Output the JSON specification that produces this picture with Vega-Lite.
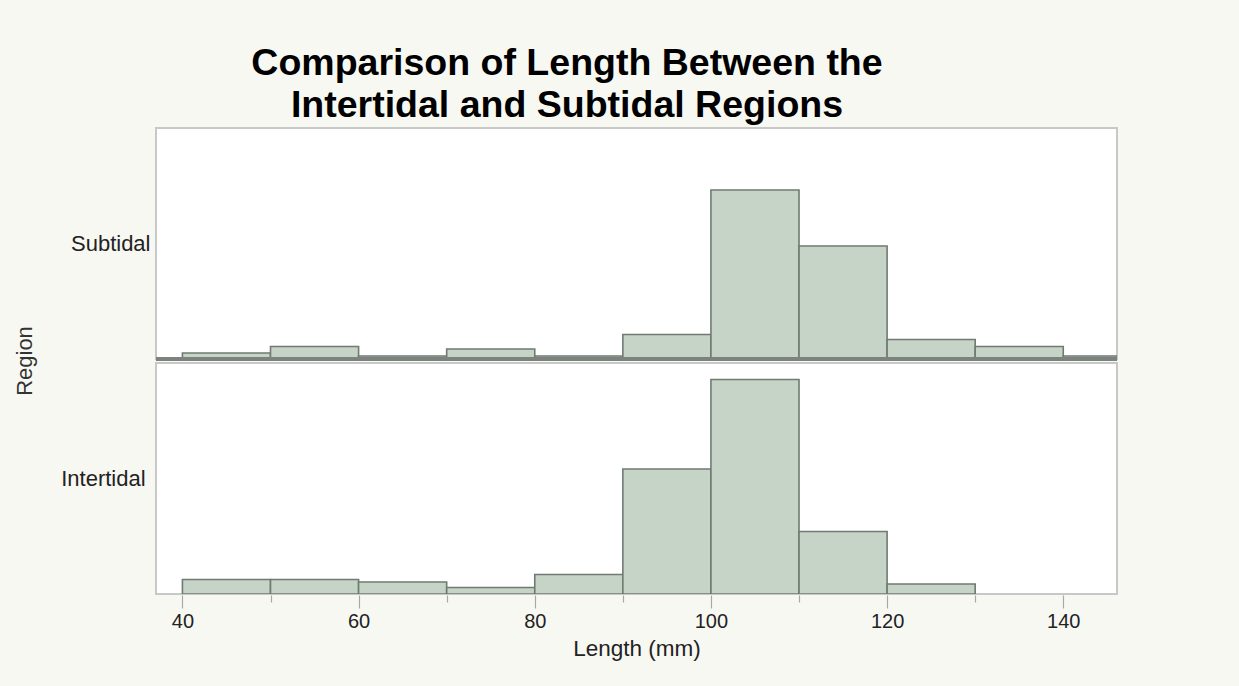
{
  "$schema": "https://vega.github.io/schema/vega-lite/v6.json",
  "background": "#f8f8f3",
  "padding": {"left": 14, "top": 44, "right": 120, "bottom": 28},
  "title": {
    "text": ["Comparison of Length Between the", "Intertidal and Subtidal Regions"],
    "font": "Liberation Sans",
    "fontSize": 37.5,
    "fontWeight": "bold",
    "lineHeight": 42,
    "color": "#000000",
    "anchor": "middle",
    "frame": "bounds",
    "offset": 3
  },
  "data": {
    "values": [
      {"region": "Subtidal", "bin_start": 40, "bin_end": 50, "freq": 6},
      {"region": "Subtidal", "bin_start": 50, "bin_end": 60, "freq": 12.5},
      {"region": "Subtidal", "bin_start": 60, "bin_end": 70, "freq": 3},
      {"region": "Subtidal", "bin_start": 70, "bin_end": 80, "freq": 10},
      {"region": "Subtidal", "bin_start": 80, "bin_end": 90, "freq": 3},
      {"region": "Subtidal", "bin_start": 90, "bin_end": 100, "freq": 24.5},
      {"region": "Subtidal", "bin_start": 100, "bin_end": 110, "freq": 169},
      {"region": "Subtidal", "bin_start": 110, "bin_end": 120, "freq": 113},
      {"region": "Subtidal", "bin_start": 120, "bin_end": 130, "freq": 19.5},
      {"region": "Subtidal", "bin_start": 130, "bin_end": 140, "freq": 12.5},
      {"region": "Subtidal", "bin_start": 140, "bin_end": 150, "freq": 3},
      {"region": "Intertidal", "bin_start": 40, "bin_end": 50, "freq": 14.5},
      {"region": "Intertidal", "bin_start": 50, "bin_end": 60, "freq": 14.5},
      {"region": "Intertidal", "bin_start": 60, "bin_end": 70, "freq": 12},
      {"region": "Intertidal", "bin_start": 70, "bin_end": 80, "freq": 6.5},
      {"region": "Intertidal", "bin_start": 80, "bin_end": 90, "freq": 19.5},
      {"region": "Intertidal", "bin_start": 90, "bin_end": 100, "freq": 125},
      {"region": "Intertidal", "bin_start": 100, "bin_end": 110, "freq": 214.5},
      {"region": "Intertidal", "bin_start": 110, "bin_end": 120, "freq": 62.5},
      {"region": "Intertidal", "bin_start": 120, "bin_end": 130, "freq": 10}
    ]
  },
  "facet": {
    "row": {
      "field": "region",
      "type": "nominal",
      "sort": ["Subtidal", "Intertidal"],
      "header": {
        "title": "Region",
        "titleOrient": "left",
        "titleFont": "Liberation Sans",
        "titleFontSize": 22,
        "titleFontWeight": "normal",
        "titleColor": "#333333",
        "titlePadding": 14,
        "labelOrient": "left",
        "labelAngle": 0,
        "labelBaseline": "middle",
        "labelFont": "Liberation Sans",
        "labelFontSize": 22,
        "labelColor": "#222222",
        "labelPadding": -77
      }
    }
  },
  "spacing": 0,
  "spec": {
    "width": 961,
    "height": 231,
    "layer": [
      {
        "mark": {"type": "bar", "fill": "#c6d4c8", "stroke": "#707a72", "strokeWidth": 1.6, "clip": true},
        "encoding": {
          "x": {
            "field": "bin_start",
            "type": "quantitative",
            "title": "Length (mm)",
            "scale": {"domain": [37, 146.1], "nice": false, "zero": false},
            "axis": {
              "values": [40, 50, 60, 70, 80, 90, 100, 110, 120, 130, 140],
              "labelExpr": "datum.value % 20 === 0 ? datum.label : ''",
              "domain": false,
              "grid": false,
              "ticks": true,
              "tickColor": "#a8a8a8",
              "tickWidth": 1.2,
              "tickSize": {"condition": {"test": "datum.value % 20 === 0", "value": 13}, "value": 7},
              "labelFont": "Liberation Sans",
              "labelFontSize": 20,
              "labelColor": "#222222",
              "labelPadding": 3,
              "labelFlush": false,
              "titleFont": "Liberation Sans",
              "titleFontSize": 22.5,
              "titleFontWeight": "normal",
              "titleColor": "#222222",
              "titlePadding": 6
            }
          },
          "x2": {"field": "bin_end"},
          "y": {
            "field": "freq",
            "type": "quantitative",
            "scale": {"domain": [0, 231], "nice": false},
            "axis": null
          },
          "y2": {"datum": 0}
        }
      },
      {
        "transform": [{"filter": "datum.region === 'Subtidal' && datum.bin_start === 40"}],
        "mark": {"type": "rule", "color": "#7c827d", "strokeWidth": 4},
        "encoding": {"y": {"datum": 0}}
      }
    ]
  },
  "config": {
    "view": {"stroke": "#c8c8c8", "strokeWidth": 2, "fill": "#ffffff"}
  }
}
